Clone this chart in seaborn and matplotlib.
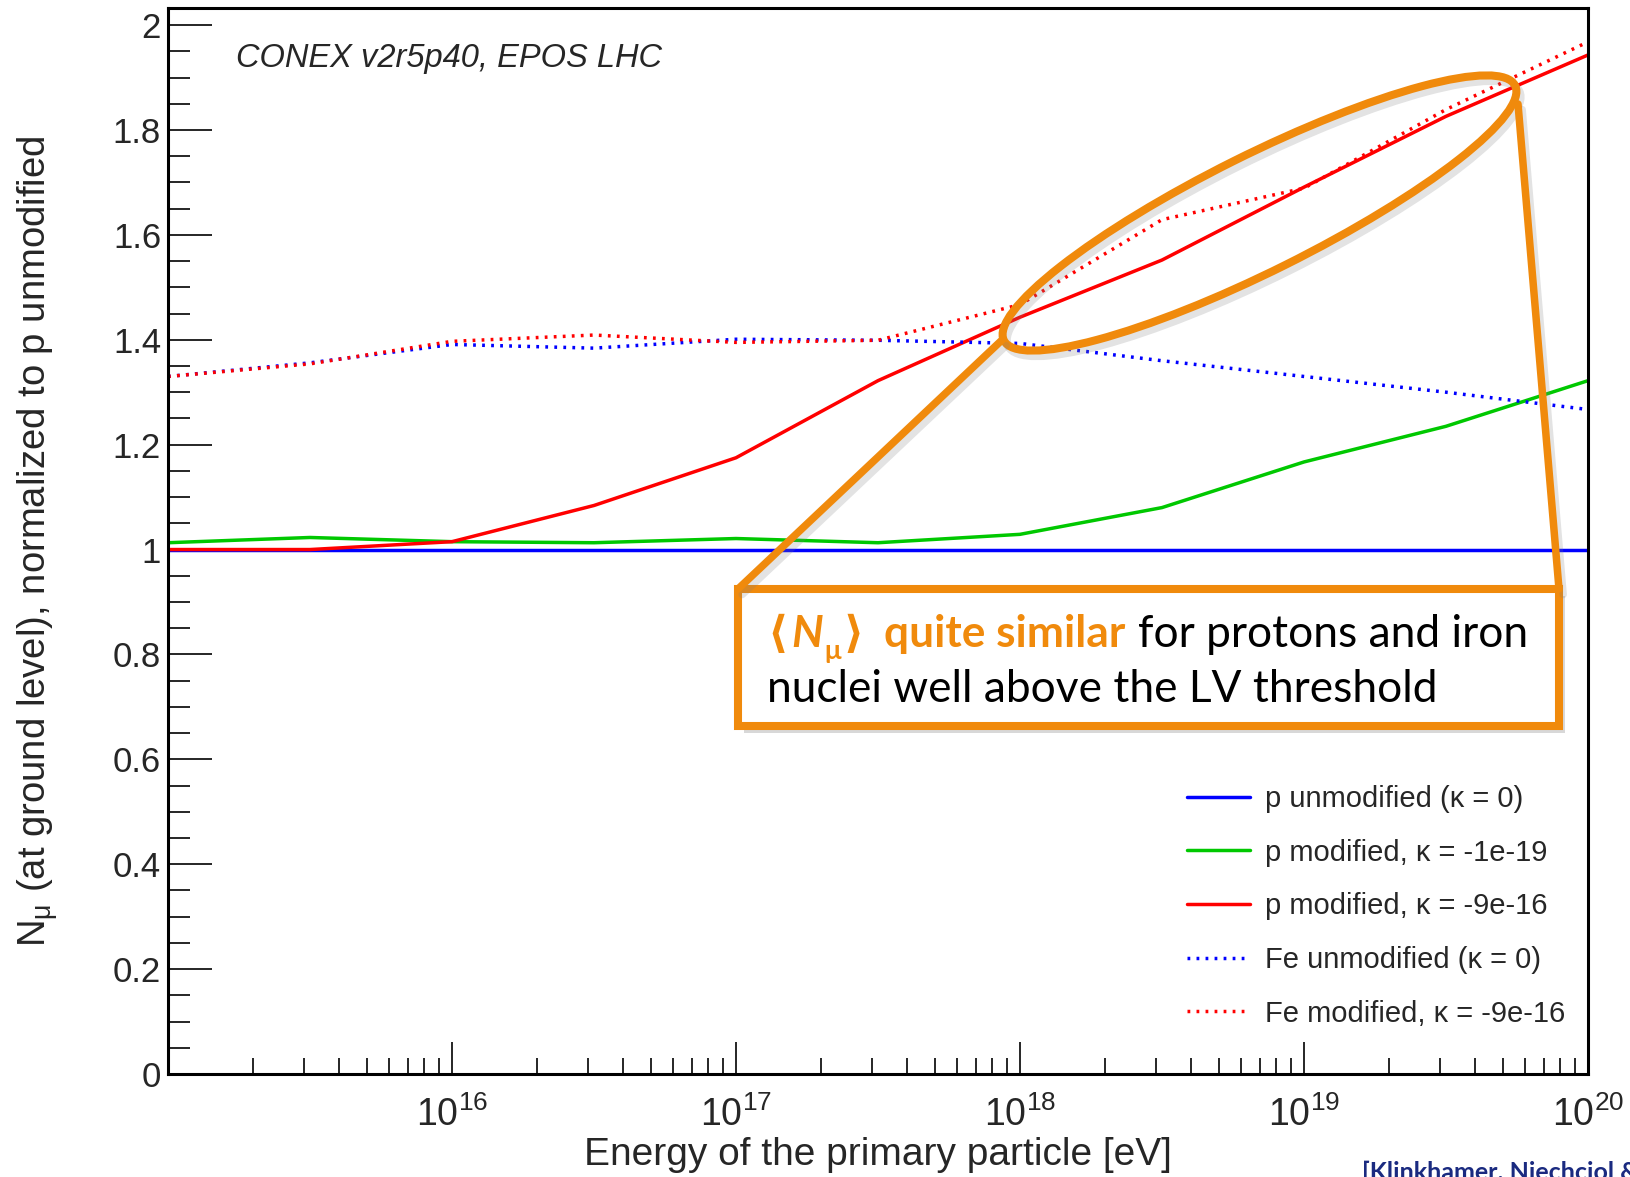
import matplotlib
matplotlib.use("Agg")
import matplotlib.pyplot as plt
import matplotlib.patheffects as pe
from matplotlib.patches import Ellipse, Rectangle
from matplotlib.ticker import FixedLocator, NullFormatter
import pandas as pd
import seaborn as sns

# ---------------- data ----------------
energy_eV = [1e15, 3.162e15, 1e16, 3.162e16, 1e17, 3.162e17, 1e18, 3.162e18,
             1e19, 3.162e19, 1e20]
p_unmodified = [1.000, 1.000, 1.000, 1.000, 1.000, 1.000, 1.000, 1.000, 1.000, 1.000, 1.000]
p_mod_1e19 = [1.013, 1.023, 1.015, 1.013, 1.021, 1.013, 1.029, 1.080, 1.167, 1.235, 1.322]
p_mod_9e16 = [1.000, 1.000, 1.015, 1.084, 1.175, 1.322, 1.443, 1.552, 1.691, 1.826, 1.943]
fe_unmodified = [1.330, 1.356, 1.391, 1.384, 1.401, 1.399, 1.393, 1.360, 1.330, 1.300, 1.267]
fe_mod_9e16 = [1.330, 1.354, 1.397, 1.409, 1.395, 1.399, 1.467, 1.629, 1.689, 1.839, 1.968]

series_labels = ["p unmodified (\u03ba = 0)",
                 "p modified, \u03ba = -1e-19",
                 "p modified, \u03ba = -9e-16",
                 "Fe unmodified (\u03ba = 0)",
                 "Fe modified, \u03ba = -9e-16"]
series_values = [p_unmodified, p_mod_1e19, p_mod_9e16, fe_unmodified, fe_mod_9e16]
series_colors = ["#0000ff", "#00c800", "#ff0000", "#0000ff", "#ff0000"]
dotted = (0, (0.8, 1.8))
series_styles = ["-", "-", "-", dotted, dotted]

xtick_values = [1e16, 1e17, 1e18, 1e19, 1e20]
xtick_labels = [r"$10^{16}$", r"$10^{17}$", r"$10^{18}$", r"$10^{19}$", r"$10^{20}$"]
ytick_values = [0, 0.2, 0.4, 0.6, 0.8, 1.0, 1.2, 1.4, 1.6, 1.8, 2.0]
ytick_labels = ["0", "0.2", "0.4", "0.6", "0.8", "1", "1.2", "1.4", "1.6", "1.8", "2"]

# ---------------- style ----------------
sns.set_style("white")
plt.rcParams["font.family"] = ["Liberation Sans", "DejaVu Sans"]
plt.rcParams["mathtext.fontset"] = "custom"
plt.rcParams["mathtext.rm"] = "Liberation Sans"
plt.rcParams["mathtext.it"] = "Liberation Sans:italic"
plt.rcParams["mathtext.bf"] = "Liberation Sans:bold"

W, H = 1630, 1177
fig = plt.figure(figsize=(W / 100, H / 100), dpi=100)
fig.patch.set_facecolor("white")
ax_l, ax_r, ax_t, ax_b = 168, 1588, 8.3, 1074
ax = fig.add_axes([ax_l / W, 1 - ax_b / H, (ax_r - ax_l) / W, (ax_b - ax_t) / H])

rows = []
for lab, vals in zip(series_labels, series_values):
    for e, v in zip(energy_eV, vals):
        rows.append({"energy": e, "value": v, "series": lab})
df = pd.DataFrame(rows)

for lab, col, ls in zip(series_labels, series_colors, series_styles):
    sub = df[df["series"] == lab]
    sns.lineplot(data=sub, x="energy", y="value", ax=ax, color=col,
                 linewidth=2.5, linestyle=ls, label=lab, errorbar=None,
                 sort=False)

ax.set_xscale("log")
ax.set_xlim(1e15, 1e20)
ax.set_ylim(0, 2.032)

ax.set_xticks(xtick_values)
ax.set_xticklabels(xtick_labels)
minor_x = [m * 10.0 ** k for k in range(15, 20) for m in range(2, 10)]
ax.xaxis.set_minor_locator(FixedLocator(minor_x))
ax.xaxis.set_minor_formatter(NullFormatter())
ax.set_yticks(ytick_values)
ax.set_yticklabels(ytick_labels)
ax.yaxis.set_minor_locator(FixedLocator([i * 0.05 for i in range(0, 41)]))

ax.tick_params(axis="y", which="major", direction="in", length=31.5, width=1.4,
               labelsize=25, pad=5, left=True, right=False)
ax.tick_params(axis="y", which="minor", direction="in", length=16, width=1.4,
               left=True, right=False)
ax.tick_params(axis="x", which="major", direction="in", length=23, width=1.4,
               labelsize=27, pad=16, bottom=True, top=False)
ax.tick_params(axis="x", which="minor", direction="in", length=11.5, width=1.4,
               bottom=True, top=False)
for sp in ax.spines.values():
    sp.set_linewidth(2.2)
    sp.set_color("black")
ax.grid(False)

ax.set_xlabel("Energy of the primary particle [eV]", fontsize=28)
ax.xaxis.set_label_coords(0.5, -0.059)
ax.set_ylabel("N$_{\\mathrm{\u03bc}}$ (at ground level), normalized to p unmodified",
              fontsize=27.5)
ax.yaxis.set_label_coords(-0.075, 0.5)

ax.legend(loc="upper left", bbox_to_anchor=(1187 / W, 1 - 785 / H),
          bbox_transform=fig.transFigure, frameon=False, fontsize=21,
          handlelength=2.15, handletextpad=0.52, labelspacing=0.88,
          borderpad=0, borderaxespad=0)

# ---------------- overlay annotations (pixel space) ----------------
ov = fig.add_axes([0, 0, 1, 1], zorder=5)
ov.set_xlim(0, W)
ov.set_ylim(H, 0)
ov.axis("off")
ov.patch.set_alpha(0)

orange = "#F08A0C"
shadow_line = [pe.SimpleLineShadow(offset=(3, -4), shadow_color="0.5", alpha=0.22),
               pe.Normal()]

ell = Ellipse((1259.5, 213), width=2 * 285.6, height=2 * 58, angle=-26.5,
              fill=False, edgecolor=orange, linewidth=5.8, path_effects=shadow_line)
ov.add_patch(ell)
ov.plot([738, 1002], [589, 340], color=orange, lw=5.4, solid_capstyle="round",
        path_effects=shadow_line)
ov.plot([1559, 1518], [589, 104], color=orange, lw=5.4, solid_capstyle="round",
        path_effects=shadow_line)
box = Rectangle((738, 589), 1559 - 738, 726 - 589, facecolor="white",
                edgecolor=orange, linewidth=5.8,
                path_effects=[pe.SimplePatchShadow(offset=(4, -5), shadow_rgbFace="0.5",
                                                   alpha=0.3), pe.Normal()])
ov.add_patch(box)

box_font = ["Lato", "DejaVu Sans"]
fig.canvas.draw()
renderer = fig.canvas.get_renderer()

line2 = "nuclei well above the LV threshold"
probe = ov.text(0, 0, line2, fontsize=28, family=box_font)
w28 = probe.get_window_extent(renderer).width
probe.remove()
fs = 28 * 670 / w28


def put(x, y, s, **kw):
    t = ov.text(x, y, s, va="baseline", ha="left", family=box_font, **kw)
    return t, t.get_window_extent(renderer).width


y1, y2 = 647, 702
x = 767
t, w = put(x, y1, "\u27e8", fontsize=fs, color=orange, fontweight="bold"); x += w + 4
t, w = put(x, y1, "N", fontsize=fs, color=orange, fontweight="bold", style="italic"); x += w + 1
t, w = put(x, y1 + fs * 100 / 72 * 0.28, "\u03bc", fontsize=fs * 0.62, color=orange,
           fontweight="bold"); x += w + 3
t, w = put(x, y1, "\u27e9", fontsize=fs, color=orange, fontweight="bold"); x += w + 20
t, w = put(x, y1, "quite similar", fontsize=fs, color=orange, fontweight="bold"); x += w + 13
put(x, y1, "for protons and iron", fontsize=fs, color="black")
put(767, y2, line2, fontsize=fs, color="black")

ov.text(236, 58, "CONEX v2r5p40, EPOS LHC", fontsize=23.5, style="italic",
        va="center", ha="left")
ov.text(1362, 1161, "[Klinkhamer, Niechciol & Risse, 2017]", fontsize=18,
        fontweight="bold", color="#1a2a80", va="top", ha="left", family=box_font)

fig.savefig("out.png", dpi=100)
